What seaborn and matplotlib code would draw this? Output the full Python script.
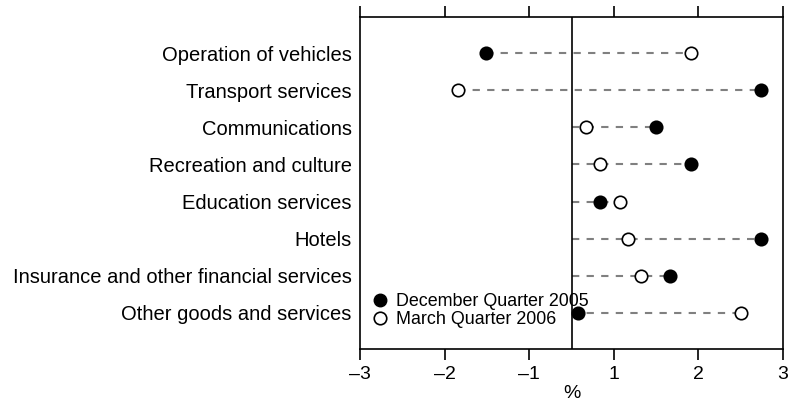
import numpy as np
import pandas as pd
import matplotlib
matplotlib.use('Agg')
import matplotlib.pyplot as plt
import seaborn as sns
from matplotlib.lines import Line2D

categories = ['Operation of vehicles', 'Transport services', 'Communications',
              'Recreation and culture', 'Education services', 'Hotels',
              'Insurance and other financial services', 'Other goods and services']
dec_2005 = [-1.21, 2.69, 1.20, 1.70, 0.41, 2.69, 1.40, 0.09]
mar_2006 = [1.70, -1.61, 0.20, 0.40, 0.69, 0.80, 0.99, 2.40]
tick_pos = [-3, -1.8, -0.6, 0.6, 1.8, 3]
tick_labels = ['\u20133', '\u20132', '\u20131', '1', '2', '3']

sns.set_style('ticks')
plt.rcParams['font.family'] = ['Liberation Sans', 'DejaVu Sans']
plt.rcParams['font.size'] = 14.5
for k in ['text.color', 'axes.labelcolor', 'xtick.color', 'ytick.color']:
    plt.rcParams[k] = 'black'

df = pd.DataFrame({'category': categories, 'dec': dec_2005, 'mar': mar_2006})

fig = plt.figure(figsize=(7.88, 4.05), dpi=100)
ax = fig.add_axes([360 / 788, 1 - 349 / 405, 423 / 788, 332 / 405])

# dashed connector from zero (or lowest value) to highest value
ypos = np.arange(len(categories))
lo = np.minimum(np.minimum(df['dec'], df['mar']), 0)
hi = np.maximum(np.maximum(df['dec'], df['mar']), 0)
ax.hlines(ypos, lo, hi, colors='#808080', linestyles=(0, (3.5, 3.5)), lw=1.5, zorder=1)

sns.scatterplot(data=df, x='dec', y='category', ax=ax, color='black',
                edgecolor='black', s=80, linewidth=1.2, zorder=3)
sns.scatterplot(data=df, x='mar', y='category', ax=ax, color='white',
                edgecolor='black', s=80, linewidth=1.2, zorder=3)

ax.axvline(0, color='black', lw=1.2, zorder=2)

ax.set_xlim(-3, 3)
ax.set_ylim(len(categories) - 1 + 0.98, -0.98)
ax.set_xticks(tick_pos)
ax.set_xticklabels(tick_labels, fontsize=14)
ax.set_xlabel('%', labelpad=2, fontsize=14)
ax.set_ylabel('')
ax.tick_params(axis='y', length=0, pad=6)
ax.tick_params(axis='x', length=8, width=1.2, top=True, labeltop=False,
               direction='out', pad=4)
for s in ax.spines.values():
    s.set_linewidth(1.2)
    s.set_color('black')

handles = [Line2D([], [], marker='o', ls='', color='black', markersize=9),
           Line2D([], [], marker='o', ls='', markerfacecolor='white',
                  markeredgecolor='black', markersize=9, markeredgewidth=1.2)]
ax.legend(handles, ['December Quarter 2005', 'March Quarter 2006'],
          loc='lower left', frameon=False, handletextpad=0.4,
          handlelength=1.0, borderaxespad=0.2, labelspacing=0.05,
          fontsize=12.9, bbox_to_anchor=(0.0, 0.03))

fig.savefig('out.png', dpi=100)
